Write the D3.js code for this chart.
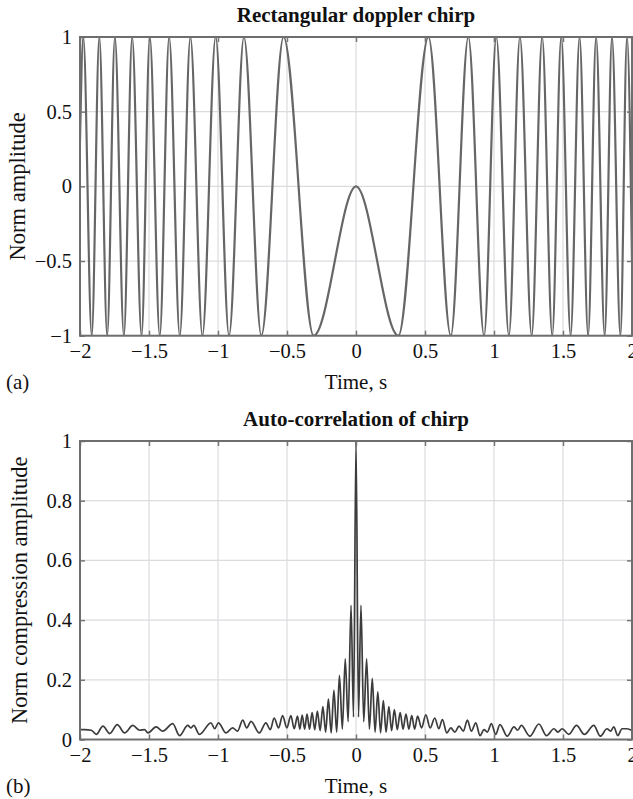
<!DOCTYPE html>
<html>
<head>
<meta charset="utf-8">
<script src="https://cdn.jsdelivr.net/npm/d3@7/dist/d3.min.js"></script>
<style>
  html, body { margin: 0; padding: 0; background: #fff; }
  svg { display: block; }
  text { font-family: "Liberation Serif", "Times New Roman", serif; fill: #111; }
</style>
</head>
<body>
<div id="chart"></div>
<script>
// ---------- data ----------
const xTicks = [-2, -1.5, -1, -0.5, 0, 0.5, 1, 1.5, 2];
const chirpYTicks = [-1, -0.5, 0, 0.5, 1];
const corrYTicks = [0, 0.2, 0.4, 0.6, 0.8, 1];

// extrema of the chirp (time, normalised amplitude)
const chirpTime = [-2.0, -1.976, -1.915, -1.860, -1.803, -1.747, -1.682, -1.622, -1.554, -1.494,
  -1.422, -1.354, -1.277, -1.200, -1.113, -1.017, -0.920, -0.812, -0.686, -0.525,
  -0.307, 0, 0.307, 0.525, 0.687, 0.814, 0.928, 1.017, 1.108, 1.188,
  1.273, 1.349, 1.422, 1.487, 1.555, 1.620, 1.682, 1.740, 1.802, 1.855,
  1.916, 1.964, 2.0];
const chirpAmp = [0.3, 1, -1, 1, -1, 1, -1, 1, -1, 1,
  -1, 1, -1, 1, -1, 1, -1, 1, -1, 1,
  -1, 0, -1, 1, -1, 1, -1, 1, -1, 1,
  -1, 1, -1, 1, -1, 1, -1, 1, -1, 1,
  -1, 1, -0.5];

// auto-correlation (time, normalised compression amplitude)
const corrTime = [-2.000, -1.966, -1.918, -1.882, -1.834, -1.785, -1.730, -1.677, -1.617, -1.568,
  -1.532, -1.508, -1.448, -1.400, -1.328, -1.279, -1.219, -1.197, -1.176, -1.135,
  -1.051, -1.024, -0.997, -0.942, -0.894, -0.858, -0.821, -0.792, -0.761, -0.701,
  -0.653, -0.621, -0.593, -0.561, -0.532, -0.501, -0.472, -0.448, -0.424, -0.407,
  -0.390, -0.372, -0.355, -0.337, -0.318, -0.299, -0.280, -0.260, -0.240, -0.220,
  -0.200, -0.180, -0.160, -0.140, -0.120, -0.099, -0.078, -0.057, -0.036, -0.018,
  0, 0.018, 0.036, 0.056, 0.077, 0.097, 0.118, 0.138, 0.158, 0.178,
  0.198, 0.218, 0.238, 0.258, 0.278, 0.299, 0.320, 0.341, 0.362, 0.383,
  0.404, 0.425, 0.446, 0.475, 0.506, 0.537, 0.571, 0.600, 0.626, 0.658,
  0.687, 0.716, 0.747, 0.778, 0.807, 0.836, 0.868, 0.899, 0.928, 0.952,
  0.981, 1.012, 1.043, 1.096, 1.145, 1.171, 1.198, 1.260, 1.325, 1.381,
  1.434, 1.463, 1.494, 1.542, 1.598, 1.655, 1.723, 1.771, 1.819, 1.844,
  1.868, 1.897, 1.928, 1.964, 2.000];
const corrAmp = [0.033, 0.033, 0.031, 0.017, 0.045, 0.020, 0.050, 0.022, 0.047, 0.031,
  0.033, 0.022, 0.042, 0.028, 0.053, 0.013, 0.047, 0.039, 0.047, 0.017,
  0.056, 0.036, 0.056, 0.022, 0.039, 0.028, 0.065, 0.039, 0.061, 0.022,
  0.056, 0.033, 0.072, 0.039, 0.080, 0.039, 0.080, 0.036, 0.078, 0.035,
  0.082, 0.035, 0.085, 0.035, 0.090, 0.033, 0.095, 0.030, 0.110, 0.025,
  0.135, 0.022, 0.165, 0.025, 0.215, 0.035, 0.270, 0.060, 0.450, 0.075,
  1.000, 0.075, 0.450, 0.060, 0.270, 0.035, 0.205, 0.025, 0.160, 0.022,
  0.130, 0.025, 0.110, 0.030, 0.100, 0.033, 0.090, 0.035, 0.085, 0.035,
  0.080, 0.035, 0.078, 0.039, 0.083, 0.039, 0.072, 0.036, 0.067, 0.022,
  0.039, 0.025, 0.045, 0.028, 0.065, 0.028, 0.056, 0.013, 0.033, 0.025,
  0.053, 0.017, 0.050, 0.011, 0.042, 0.031, 0.047, 0.011, 0.052, 0.013,
  0.036, 0.025, 0.036, 0.017, 0.047, 0.017, 0.047, 0.011, 0.036, 0.028,
  0.042, 0.013, 0.036, 0.036, 0.030];

// ---------- layout ----------
const W = 633, H = 799;
const svg = d3.select("#chart").append("svg").attr("width", W).attr("height", H);

const fmt = d => (d < 0 ? "\u2212" + Math.abs(d) : String(d));

function panel(opts) {
  const { top, bottom, left, right, yDomain, yTicks, times, values, title, ylabel, tag,
          lineColor, lineWidth, ylabelX } = opts;
  const x = d3.scaleLinear().domain([-2, 2]).range([left, right]);
  const y = d3.scaleLinear().domain(yDomain).range([bottom, top]);
  const g = svg.append("g");
  const clipId = "clip" + Math.round(top);
  svg.append("clipPath").attr("id", clipId).append("rect")
    .attr("x", left).attr("y", top).attr("width", right - left).attr("height", bottom - top);

  // grid
  g.append("g").selectAll("line").data(xTicks).join("line")
    .attr("x1", d => x(d)).attr("x2", d => x(d)).attr("y1", top).attr("y2", bottom)
    .attr("stroke", "#dcdcdf").attr("stroke-width", 1.2);
  g.append("g").selectAll("line").data(yTicks).join("line")
    .attr("y1", d => y(d)).attr("y2", d => y(d)).attr("x1", left).attr("x2", right)
    .attr("stroke", "#dcdcdf").attr("stroke-width", 1.2);

  // data line
  const pts = times.map((t, i) => [t, values[i]]);
  const line = d3.line().x(d => x(d[0])).y(d => y(d[1])).curve(d3.curveMonotoneX);
  g.append("path").attr("d", line(pts)).attr("fill", "none")
    .attr("stroke", lineColor).attr("stroke-width", lineWidth)
    .attr("stroke-linejoin", "round")
    .attr("clip-path", `url(#${clipId})`);

  // axes
  const axStyle = sel => {
    sel.select(".domain").remove();
    sel.selectAll(".tick line").attr("stroke", "#777").attr("stroke-width", 1.5);
    sel.selectAll(".tick text").attr("font-family", "Liberation Serif")
      .attr("font-size", 20.5).attr("fill", "#111");
  };
  g.append("g").attr("transform", `translate(0,${bottom})`)
    .call(d3.axisBottom(x).tickValues(xTicks).tickFormat(fmt).tickSize(-5).tickPadding(7.5))
    .call(axStyle);
  g.append("g").attr("transform", `translate(0,${top})`)
    .call(d3.axisTop(x).tickValues(xTicks).tickFormat("").tickSize(-5))
    .call(axStyle);
  g.append("g").attr("transform", `translate(${left},0)`)
    .call(d3.axisLeft(y).tickValues(yTicks).tickFormat(fmt).tickSize(-5).tickPadding(8))
    .call(axStyle);
  g.append("g").attr("transform", `translate(${right},0)`)
    .call(d3.axisRight(y).tickValues(yTicks).tickFormat("").tickSize(-5))
    .call(axStyle);

  // border
  g.append("rect").attr("x", left).attr("y", top).attr("width", right - left)
    .attr("height", bottom - top).attr("fill", "none")
    .attr("stroke", "#6e6e6e").attr("stroke-width", 2);

  // texts
  g.append("text").attr("x", (left + right) / 2).attr("y", top - 15.5)
    .attr("text-anchor", "middle").attr("font-weight", "bold").attr("font-size", 21)
    .text(title);
  g.append("text").attr("x", (left + right) / 2).attr("y", bottom + 53)
    .attr("text-anchor", "middle").attr("font-size", 21).text("Time, s");
  g.append("text").attr("x", 6).attr("y", bottom + 53)
    .attr("font-size", 21).text(tag);
  g.append("text").attr("transform", `translate(${ylabelX},${(top + bottom) / 2}) rotate(-90)`)
    .attr("text-anchor", "middle").attr("font-size", 22.5).text(ylabel);
}

panel({
  top: 37, bottom: 335.7, left: 80, right: 632,
  yDomain: [-1, 1], yTicks: chirpYTicks, times: chirpTime, values: chirpAmp,
  title: "Rectangular doppler chirp", ylabel: "Norm amplitude", tag: "(a)",
  lineColor: "#666", lineWidth: 2.2, ylabelX: 25
});
panel({
  top: 441, bottom: 739.5, left: 80, right: 632,
  yDomain: [0, 1], yTicks: corrYTicks, times: corrTime, values: corrAmp,
  title: "Auto-correlation of chirp", ylabel: "Norm compression amplitude", tag: "(b)",
  lineColor: "#3c3c3c", lineWidth: 1.7, ylabelX: 27
});
</script>
</body>
</html>
